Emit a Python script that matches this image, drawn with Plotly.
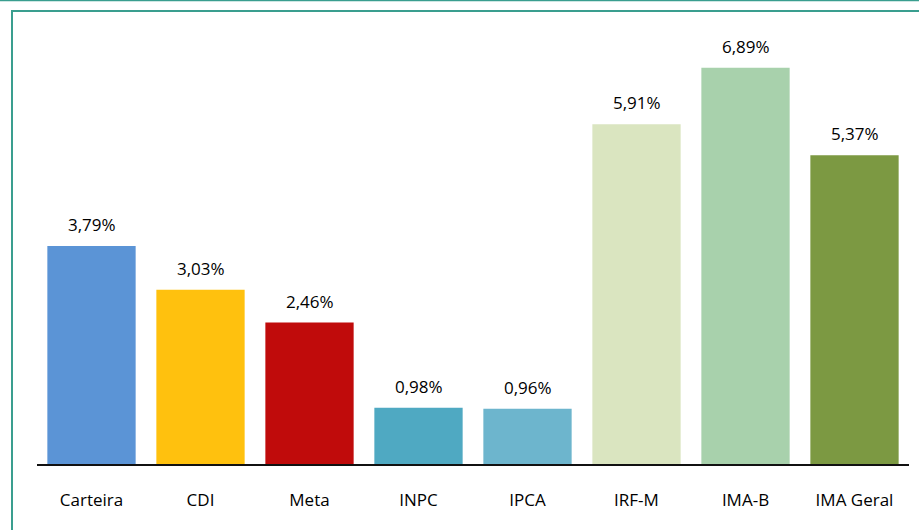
import plotly.graph_objects as go

categories = ["Carteira", "CDI", "Meta", "INPC", "IPCA", "IRF-M", "IMA-B", "IMA Geral"]
values = [3.79, 3.03, 2.46, 0.98, 0.96, 5.91, 6.89, 5.37]
labels = ["3,79%", "3,03%", "2,46%", "0,98%", "0,96%", "5,91%", "6,89%", "5,37%"]
colors = ["#5B94D6", "#FFC10E", "#C00B0B", "#4FA9C2", "#6DB5CD", "#DAE5C0", "#A8D1AC", "#7C9942"]

W, H = 919, 530
L, R, T, B = 37, 10, 20, 66
pw, ph = W - L - R, H - T - B

def px(x):
    return (x - L) / pw

def py(y):
    return (H - B - y) / ph

fig = go.Figure()
fig.add_trace(go.Bar(x=categories, y=values, marker=dict(color=colors, line=dict(width=0)),
                     width=0.81, hoverinfo="skip"))

for c, v, t in zip(categories, values, labels):
    fig.add_annotation(x=c, y=v, text=t, showarrow=False, yanchor="bottom", yshift=8,
                       font=dict(family="Open Sans", size=17, color="#000000"))

teal = "#3A9E8F"
fig.add_shape(type="line", xref="paper", yref="paper", x0=px(0), x1=px(W), y0=py(0.5), y1=py(0.5),
              line=dict(color=teal, width=1.5))
fig.add_shape(type="line", xref="paper", yref="paper", x0=px(11), x1=px(W), y0=py(11), y1=py(11),
              line=dict(color=teal, width=2))
fig.add_shape(type="line", xref="paper", yref="paper", x0=px(12), x1=px(12), y0=py(11), y1=py(H),
              line=dict(color=teal, width=2))

fig.update_layout(
    width=W, height=H, margin=dict(l=L, r=R, t=T, b=B),
    paper_bgcolor="white", plot_bgcolor="white", showlegend=False,
    font=dict(family="Open Sans", size=17, color="#000000"),
    xaxis=dict(showline=True, linecolor="#111111", linewidth=2, ticks="", showgrid=False,
               ticklabelstandoff=20, tickfont=dict(size=17)),
    yaxis=dict(range=[0, ph / 57.5], visible=False, showgrid=False, zeroline=False),
)

fig.write_html("out.html", config={"displayModeBar": False},
               post_script="document.body.style.margin='0';")
